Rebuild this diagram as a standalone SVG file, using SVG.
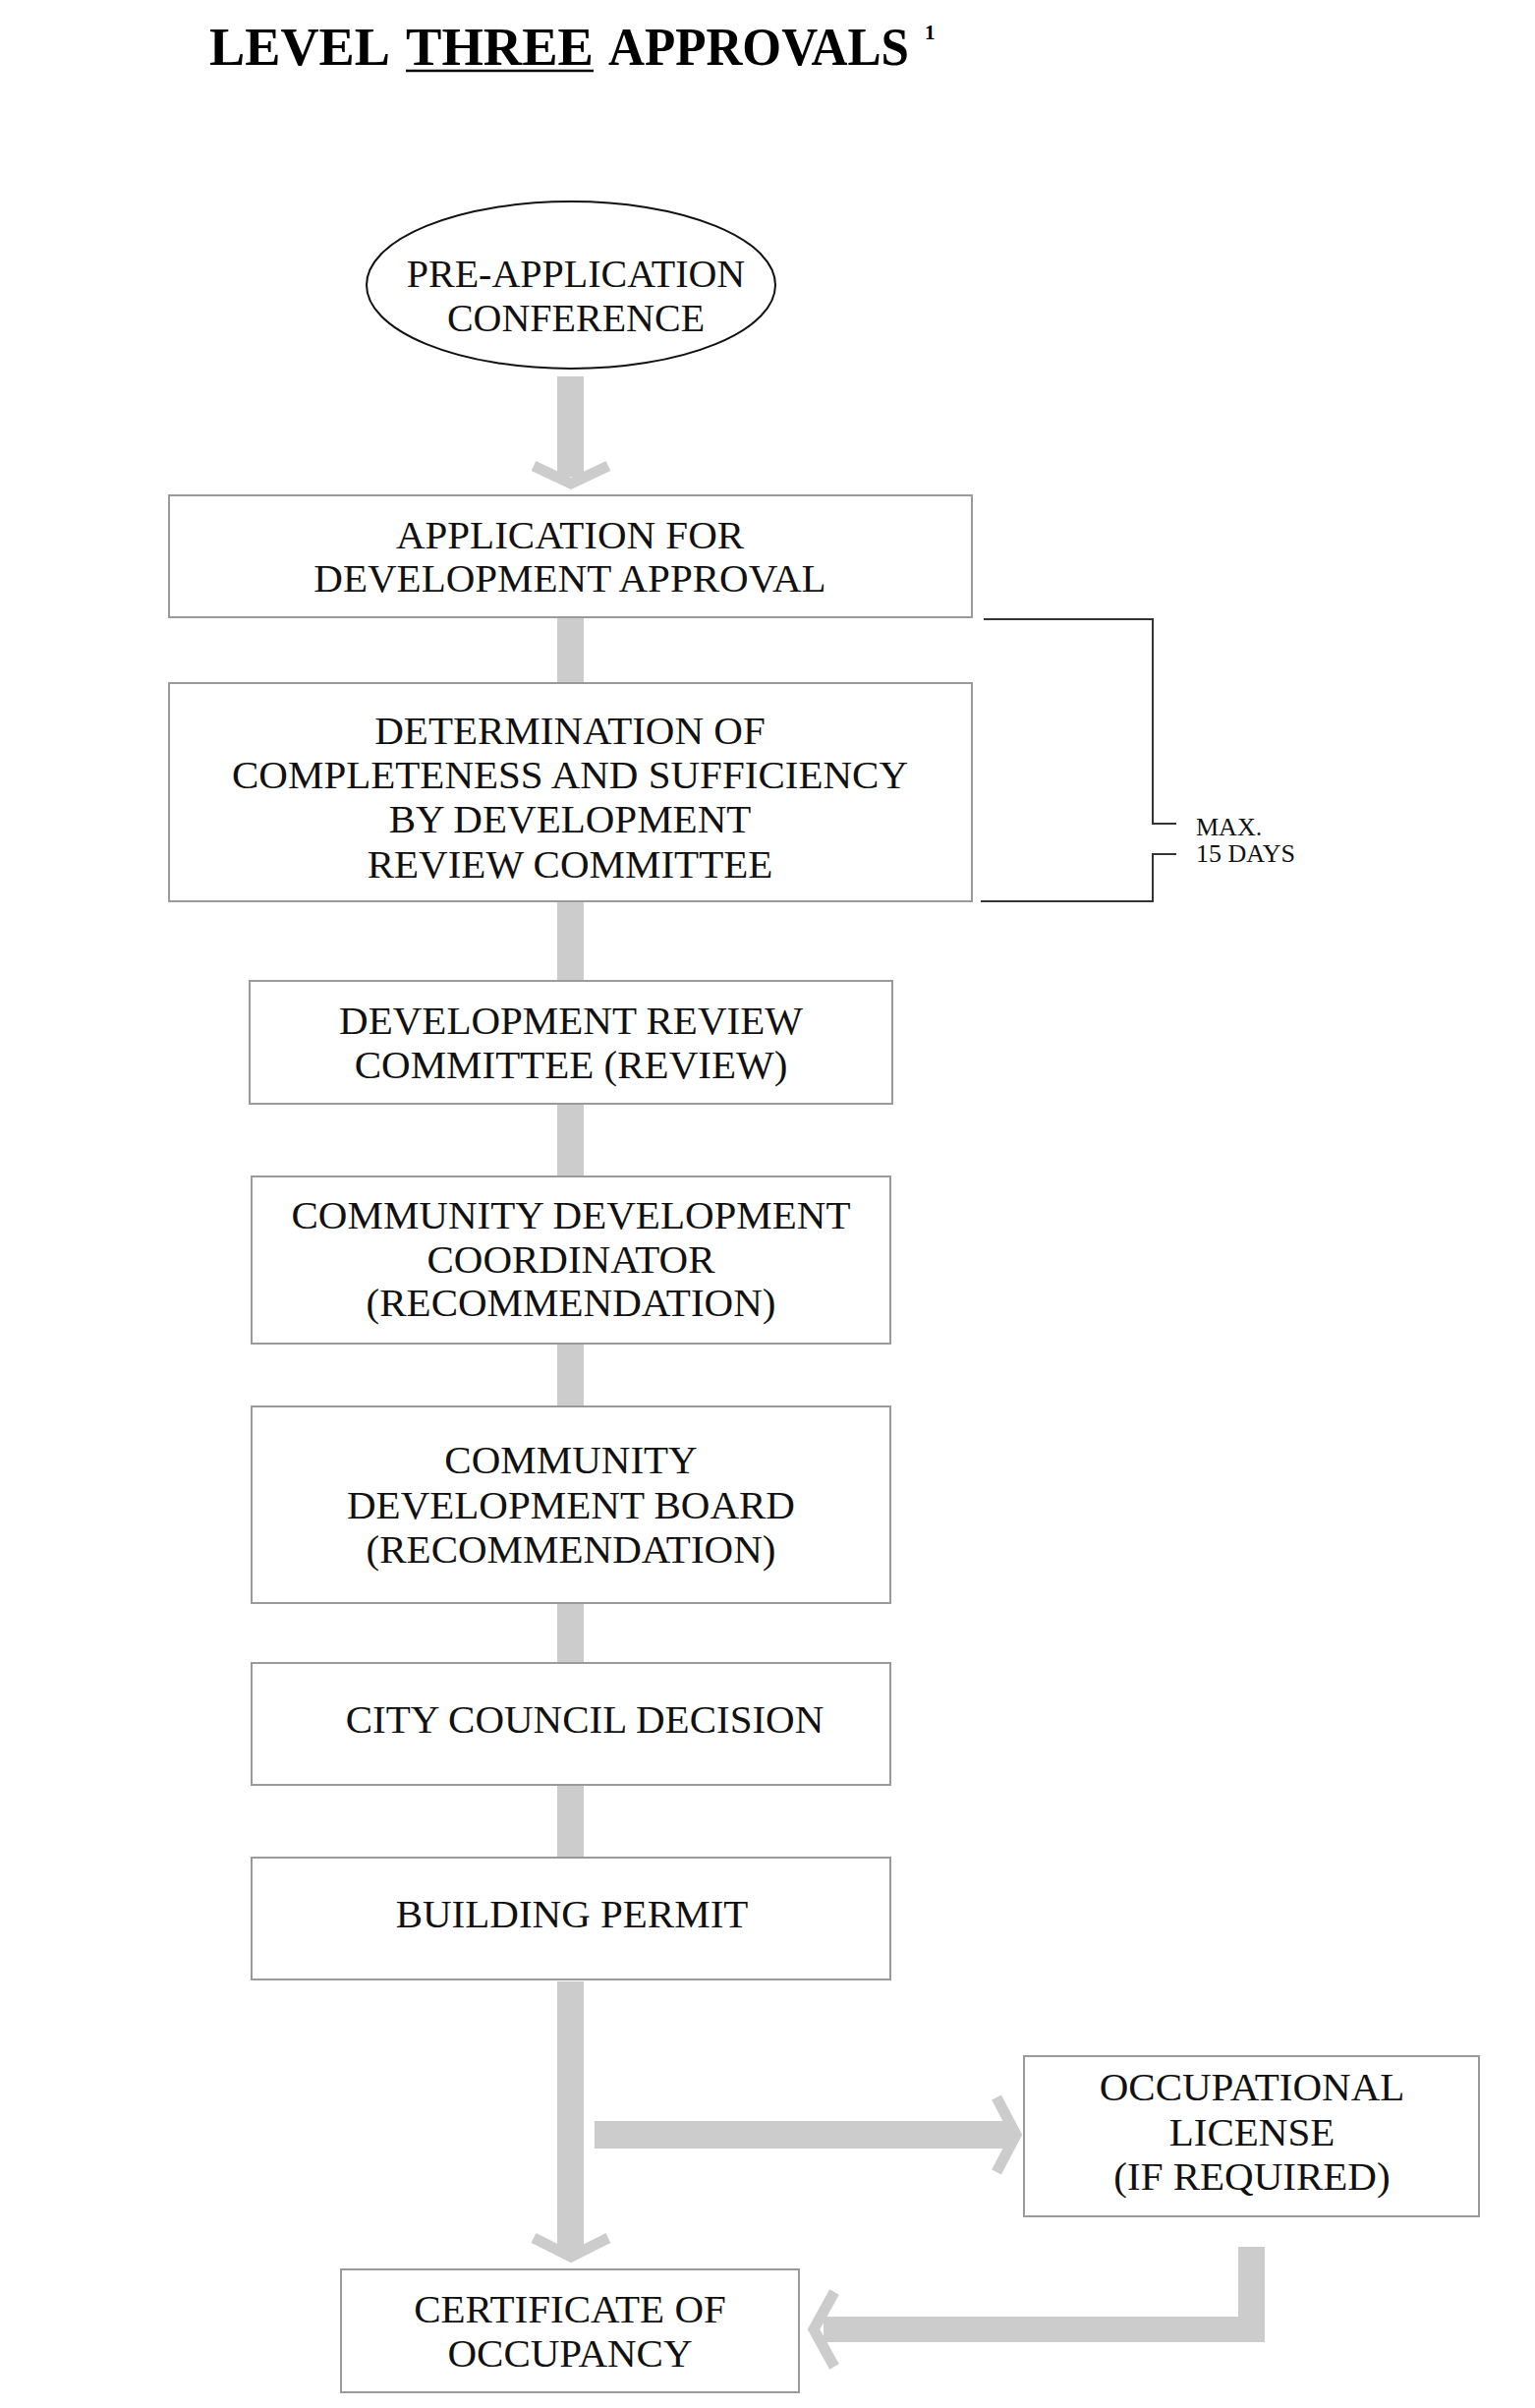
<svg xmlns="http://www.w3.org/2000/svg" width="1562" height="2450" viewBox="0 0 1562 2450">
<style>
  .bg{fill:#ffffff}
  .box{fill:#ffffff;stroke:#9a9a9a;stroke-width:2}
  .ell{fill:#ffffff;stroke:#111111;stroke-width:2}
  .t{font-family:"Liberation Serif","Times New Roman",serif;font-size:41px;fill:#111111;text-anchor:middle}
  .te{font-family:"Liberation Serif","Times New Roman",serif;font-size:40px;fill:#111111;text-anchor:middle}
  .title{font-family:"Liberation Serif","Times New Roman",serif;font-weight:bold;fill:#000000}
  .small{font-family:"Liberation Serif","Times New Roman",serif;font-size:26px;fill:#111111}
  .shaft{fill:#cccccc}
  .head{fill:none;stroke:#cccccc;stroke-width:11;stroke-linejoin:miter;stroke-miterlimit:10;stroke-linecap:butt}
  .brk{fill:none;stroke:#333333;stroke-width:2}
</style>
<rect class="bg" x="0" y="0" width="1562" height="2450"/>

<g id="title">
  <text class="title" x="213" y="66" font-size="54" textLength="184" lengthAdjust="spacingAndGlyphs">LEVEL</text>
  <text class="title" x="413" y="66" font-size="54" textLength="191" lengthAdjust="spacingAndGlyphs">THREE</text>
  <text class="title" x="619" y="66" font-size="54" textLength="306" lengthAdjust="spacingAndGlyphs">APPROVALS</text>
  <line x1="413" y1="72" x2="604" y2="72" stroke="#000" stroke-width="2.5"/>
  <text class="title" x="941" y="40" font-size="21">1</text>
</g>

<g id="connectors">
  <rect class="shaft" x="567" y="383" width="27" height="102"/>
  <polyline class="head" points="543,474 581,492 619,474"/>
  <rect class="shaft" x="567" y="628" width="27" height="67"/>
  <rect class="shaft" x="567" y="917" width="27" height="81"/>
  <rect class="shaft" x="567" y="1123" width="27" height="74"/>
  <rect class="shaft" x="567" y="1367" width="27" height="64"/>
  <rect class="shaft" x="567" y="1631" width="27" height="61"/>
  <rect class="shaft" x="567" y="1816" width="27" height="74"/>
  <rect class="shaft" x="567" y="2016" width="27" height="278"/>
  <polyline class="head" points="543,2277 581,2296 619,2277"/>
  <rect class="shaft" x="605" y="2158" width="425" height="28"/>
  <polyline class="head" points="1014,2134 1034,2172 1014,2210"/>
  <rect class="shaft" x="1260" y="2286" width="27" height="97"/>
  <rect class="shaft" x="838" y="2357" width="449" height="26"/>
  <polyline class="head" points="849,2332 828,2370 849,2408"/>
  <path class="brk" d="M1001,630 H1173 V838 H1197 M1197,869 H1173 V917 H998"/>
</g>

<g id="max-days">
  <text class="small" x="1217" y="850">MAX.</text>
  <text class="small" x="1217" y="877">15 DAYS</text>
</g>

<g id="pre-application">
  <ellipse class="ell" cx="581" cy="290" rx="208" ry="85"/>
  <text class="te" x="586" y="292">PRE-APPLICATION</text>
  <text class="te" x="586" y="337">CONFERENCE</text>
</g>

<g id="application">
  <rect class="box" x="172" y="504" width="817" height="124"/>
  <text class="t" x="580" y="558">APPLICATION FOR</text>
  <text class="t" x="580" y="602">DEVELOPMENT APPROVAL</text>
</g>

<g id="determination">
  <rect class="box" x="172" y="695" width="817" height="222"/>
  <text class="t" x="580" y="757">DETERMINATION OF</text>
  <text class="t" x="580" y="802">COMPLETENESS AND SUFFICIENCY</text>
  <text class="t" x="580" y="847">BY DEVELOPMENT</text>
  <text class="t" x="580" y="893">REVIEW COMMITTEE</text>
</g>

<g id="drc-review">
  <rect class="box" x="254" y="998" width="654" height="125"/>
  <text class="t" x="581" y="1052">DEVELOPMENT REVIEW</text>
  <text class="t" x="581" y="1097">COMMITTEE (REVIEW)</text>
</g>

<g id="cdc-recommendation">
  <rect class="box" x="256" y="1197" width="650" height="170"/>
  <text class="t" x="581" y="1250">COMMUNITY DEVELOPMENT</text>
  <text class="t" x="581" y="1295">COORDINATOR</text>
  <text class="t" x="581" y="1339">(RECOMMENDATION)</text>
</g>

<g id="cdb-recommendation">
  <rect class="box" x="256" y="1431" width="650" height="200"/>
  <text class="t" x="581" y="1499">COMMUNITY</text>
  <text class="t" x="581" y="1545">DEVELOPMENT BOARD</text>
  <text class="t" x="581" y="1590">(RECOMMENDATION)</text>
</g>

<g id="city-council">
  <rect class="box" x="256" y="1692" width="650" height="124"/>
  <text class="t" x="595" y="1763">CITY COUNCIL DECISION</text>
</g>

<g id="building-permit">
  <rect class="box" x="256" y="1890" width="650" height="124"/>
  <text class="t" x="582" y="1961">BUILDING PERMIT</text>
</g>

<g id="occupational-license">
  <rect class="box" x="1042" y="2092" width="463" height="163"/>
  <text class="t" x="1274" y="2137">OCCUPATIONAL</text>
  <text class="t" x="1274" y="2183">LICENSE</text>
  <text class="t" x="1274" y="2228">(IF REQUIRED)</text>
</g>

<g id="certificate-occupancy">
  <rect class="box" x="347" y="2309" width="466" height="125"/>
  <text class="t" x="580" y="2363">CERTIFICATE OF</text>
  <text class="t" x="580" y="2408">OCCUPANCY</text>
</g>
</svg>
